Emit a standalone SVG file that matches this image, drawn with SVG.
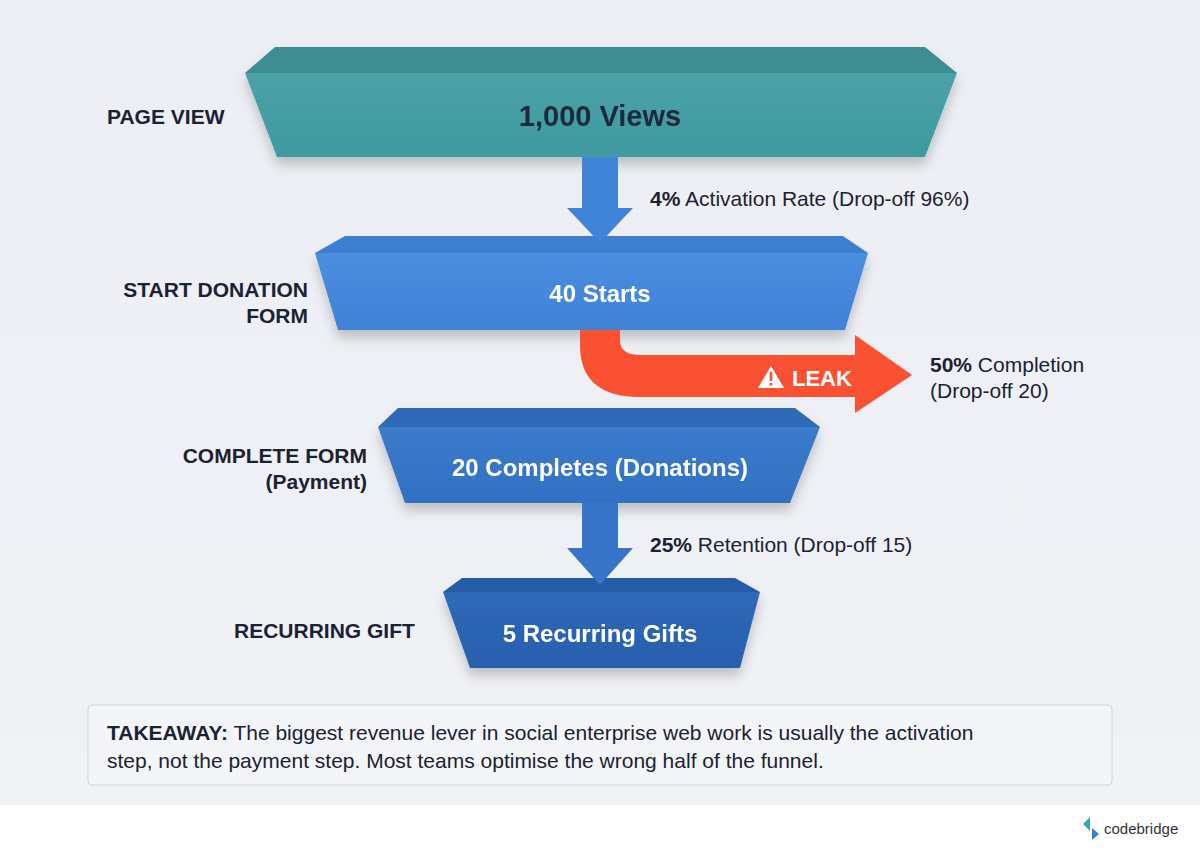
<svg xmlns="http://www.w3.org/2000/svg" width="1200" height="853" viewBox="0 0 1200 853">
<defs>
<linearGradient id="bg" x1="0" y1="0" x2="0" y2="1"><stop offset="0" stop-color="#eceef4"/><stop offset="1" stop-color="#f1f2f6"/></linearGradient>
<linearGradient id="teal" x1="0" y1="0" x2="0" y2="1"><stop offset="0" stop-color="#4aa2a8"/><stop offset="1" stop-color="#3f9aa0"/></linearGradient>
<linearGradient id="blue" x1="0" y1="0" x2="0" y2="1"><stop offset="0" stop-color="#4a8ee0"/><stop offset="1" stop-color="#3f82d6"/></linearGradient>
<linearGradient id="blue2" x1="0" y1="0" x2="0" y2="1"><stop offset="0" stop-color="#3b7bcc"/><stop offset="1" stop-color="#3270c2"/></linearGradient>
<linearGradient id="blue3" x1="0" y1="0" x2="0" y2="1"><stop offset="0" stop-color="#2f69b8"/><stop offset="1" stop-color="#285fae"/></linearGradient>
<filter id="sh" x="-10%" y="-10%" width="120%" height="140%"><feDropShadow dx="0" dy="8" stdDeviation="6" flood-color="#000" flood-opacity="0.2"/></filter>
</defs>
<style>
.lbl{font-family:"Liberation Sans",sans-serif;font-weight:700;font-size:21px;fill:#1b2233}
.val{font-family:"Liberation Sans",sans-serif;font-weight:700;font-size:24px;fill:#fff;text-anchor:middle}
.rate{font-family:"Liberation Sans",sans-serif;font-size:21px;fill:#1b2233}
</style>
<rect width="1200" height="853" fill="url(#bg)"/>
<rect y="805" width="1200" height="48" fill="#fff"/>

<g id="stage1" filter="url(#sh)">
<polygon points="275,47 925,47 957,73 245,73" fill="#3c8d92"/>
<polygon points="245,73 957,73 925,157 277,157" fill="url(#teal)"/>
<text x="600" y="126" class="val" style="fill:#1b2a3e;font-size:29px">1,000 Views</text>
</g>
<text x="107" y="124" class="lbl">PAGE VIEW</text>

<g id="stage2" filter="url(#sh)">
<polygon points="345,236 843,236 868,253 315,253" fill="#3d7fce"/>
<polygon points="315,253 868,253 845,330 338,330" fill="url(#blue)"/>
<text x="600" y="302" class="val">40 Starts</text>
</g>
<text x="308" y="297" class="lbl" text-anchor="end">START DONATION</text>
<text x="308" y="323" class="lbl" text-anchor="end">FORM</text>

<g id="stage3" filter="url(#sh)">
<polygon points="398,408 795,408 820,427 378,427" fill="#2f6ab8"/>
<polygon points="378,427 820,427 790,503 405,503" fill="url(#blue2)"/>
<text x="600" y="476" class="val">20 Completes (Donations)</text>
</g>
<text x="367" y="463" class="lbl" text-anchor="end">COMPLETE FORM</text>
<text x="367" y="489" class="lbl" text-anchor="end">(Payment)</text>

<g id="stage4" filter="url(#sh)">
<polygon points="462,578 735,578 760,592 443,592" fill="#275ca6"/>
<polygon points="443,592 760,592 740,668 470,668" fill="url(#blue3)"/>
<text x="600" y="642" class="val">5 Recurring Gifts</text>
</g>
<text x="234" y="638" class="lbl">RECURRING GIFT</text>

<g id="connectors">
<polygon points="582,157 618,157 618,208 633,208 600,243 567,208 582,208" fill="#3f84d8"/>
<polygon points="582,503 618,503 618,548 633,548 600,585 567,548 582,548" fill="#3775c8"/>
<path d="M580,330 L620,330 L620,340 Q620,355 640,355 L855,355 L855,335 L912,375 L855,413 L855,397 L640,397 Q580,397 580,345 Z" fill="#fa5133"/>
<polygon points="771,366 784,388 758,388" fill="#fff"/>
<rect x="769.7" y="372" width="2.6" height="9" fill="#fa5133"/>
<rect x="769.7" y="383" width="2.6" height="2.6" fill="#fa5133"/>
<text x="792" y="386" style="font-family:'Liberation Sans',sans-serif;font-weight:700;font-size:22px;fill:#fff">LEAK</text>
</g>
<text x="650" y="206" class="rate"><tspan font-weight="700">4%</tspan> Activation Rate (Drop-off 96%)</text>
<text x="930" y="372" class="rate"><tspan font-weight="700">50%</tspan> Completion</text>
<text x="930" y="398" class="rate">(Drop-off 20)</text>
<text x="650" y="552" class="rate"><tspan font-weight="700">25%</tspan> Retention (Drop-off 15)</text>

<g id="takeaway">
<rect x="88" y="705" width="1024" height="80" rx="4" fill="#f4f5f8" stroke="#cfd3da"/>
<text x="107" y="740" class="rate"><tspan font-weight="700">TAKEAWAY:</tspan> The biggest revenue lever in social enterprise web work is usually the activation</text>
<text x="107" y="768" class="rate">step, not the payment step. Most teams optimise the wrong half of the funnel.</text>
</g>
<g id="logo">
<path d="M1090,817 l-7,7 l7,7 z" fill="#3aa8a0"/>
<path d="M1092,828 l7,6 l-7,6 z" fill="#3d7fd0"/>
<text x="1104" y="834" style="font-family:'Liberation Sans',sans-serif;font-size:15px;fill:#333">codebridge</text>
</g>
</svg>
